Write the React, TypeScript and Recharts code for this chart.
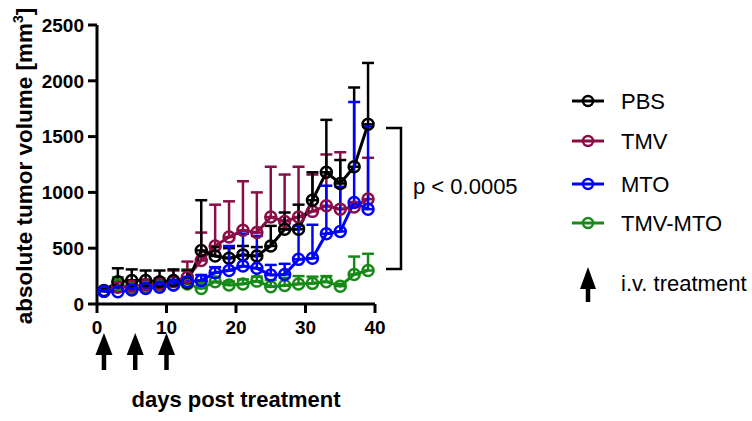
import React from 'react';
import { LineChart, Line, XAxis, YAxis, ErrorBar, ReferenceDot } from 'recharts';

// days post treatment (measurement days)
const days = [1, 3, 5, 7, 9, 11, 13, 15, 17, 19, 21, 23, 25, 27, 29, 31, 33, 35, 37, 39];

// mean tumor volume (mm3) and upper SD per group
const pbsMean = [120, 200, 210, 210, 200, 210, 190, 480, 430, 410, 440, 430, 520, 670, 670, 930, 1180, 1080, 1230, 1610];
const pbsSd = [20, 120, 100, 90, 100, 100, 110, 450, 80, 90, 80, 80, 180, 150, 220, 250, 470, 210, 710, 550];

const tmvMean = [115, 150, 160, 170, 180, 200, 240, 390, 520, 600, 660, 640, 780, 740, 780, 830, 880, 850, 870, 940];
const tmvSd = [15, 50, 40, 50, 50, 100, 140, 250, 370, 320, 440, 360, 450, 420, 450, 330, 460, 510, 30, 370];

const mtoMean = [115, 110, 125, 140, 150, 170, 200, 210, 280, 300, 340, 320, 260, 265, 400, 410, 630, 650, 910, 850];
const mtoSd = [5, 20, 15, 20, 20, 30, 40, 50, 50, 220, 290, 290, 90, 95, 300, 300, 430, 400, 900, 740];

const tmvMtoMean = [115, 170, 140, 150, 160, 170, 180, 140, 200, 170, 180, 205, 155, 165, 180, 185, 200, 160, 265, 300];
const tmvMtoSd = [10, 70, 30, 30, 30, 30, 130, 60, 40, 30, 40, 40, 60, 70, 70, 60, 50, 20, 160, 150];

const xTicks = [0, 10, 20, 30, 40];
const yTicks = [0, 500, 1000, 1500, 2000, 2500];
const treatmentDays = [1, 5.5, 10];

const BLACK = '#000000';
const MAROON = '#8a0e46';
const BLUE = '#0000ff';
const GREEN = '#168a16';

// drawing order: green at the back, blue on top
const series = [
    { key: 'tmvMto', name: 'TMV-MTO', color: GREEN, mean: tmvMtoMean, sd: tmvMtoSd },
    { key: 'tmv', name: 'TMV', color: MAROON, mean: tmvMean, sd: tmvSd },
    { key: 'pbs', name: 'PBS', color: BLACK, mean: pbsMean, sd: pbsSd },
    { key: 'mto', name: 'MTO', color: BLUE, mean: mtoMean, sd: mtoSd },
];

const legendOrder = ['pbs', 'tmv', 'mto', 'tmvMto'];

const data = days.map((day, i) => {
    const row: { [key: string]: any } = { day };
    series.forEach((s) => {
        row[s.key] = s.mean[i];
        row[s.key + 'Err'] = [0, s.sd[i]];
    });
    return row;
});

const FONT = '"Liberation Sans", Arial, Helvetica, sans-serif';

const TreatmentArrow = (props: any) => {
    const { cx, cy } = props;
    if (cx == null || cy == null) return null;
    const tip = cy + 29;
    const base = tip + 22;
    return (
        <g>
            <path d={`M${cx},${tip} L${cx - 8.5},${base} L${cx + 8.5},${base} Z`} fill="#000" />
            <line x1={cx} y1={base - 2} x2={cx} y2={tip + 37} stroke="#000" strokeWidth={4.5} />
        </g>
    );
};

const App: React.FC = () => {
    return (
        <div style={{ position: 'absolute', left: 0, top: 0, width: 752, height: 421, background: '#fff', fontFamily: FONT }}>
            <LineChart width={752} height={421} data={data} margin={{ top: 25, right: 377, bottom: 0, left: 0 }}>
                <XAxis
                    dataKey="day"
                    type="number"
                    domain={[0, 40]}
                    ticks={xTicks}
                    height={117}
                    axisLine={{ stroke: '#000', strokeWidth: 3 }}
                    tickLine={{ stroke: '#000', strokeWidth: 3 }}
                    tickSize={9}
                    tickMargin={8}
                    tick={{ fill: '#000', fontSize: 19, fontWeight: 700, fontFamily: FONT }}
                    interval={0}
                />
                <YAxis
                    type="number"
                    domain={[0, 2500]}
                    ticks={yTicks}
                    width={97}
                    axisLine={{ stroke: '#000', strokeWidth: 3 }}
                    tickLine={{ stroke: '#000', strokeWidth: 3 }}
                    tickSize={9}
                    tickMargin={4}
                    tick={{ fill: '#000', fontSize: 19, fontWeight: 700, fontFamily: FONT }}
                    interval={0}
                />
                {series.map((s) => (
                    <Line
                        key={s.key}
                        dataKey={s.key}
                        name={s.name}
                        stroke={s.color}
                        strokeWidth={3}
                        dot={{ r: 5.5, stroke: s.color, strokeWidth: 2.5, fill: 'none' }}
                        activeDot={false}
                        isAnimationActive={false}
                    >
                        <ErrorBar
                            dataKey={s.key + 'Err'}
                            direction="y"
                            width={6}
                            stroke={s.color}
                            strokeWidth={2.5}
                            isAnimationActive={false}
                        />
                    </Line>
                ))}
                {treatmentDays.map((d) => (
                    <ReferenceDot
                        key={`arrow-${d}`}
                        x={d}
                        y={0}
                        r={0}
                        ifOverflow="visible"
                        shape={TreatmentArrow}
                    />
                ))}
            </LineChart>

            {/* annotations: axis titles, significance bracket, legend */}
            <svg width={752} height={421} style={{ position: 'absolute', left: 0, top: 0, pointerEvents: 'none' }}>
                <text
                    transform="translate(32,166) rotate(-90)"
                    textAnchor="middle"
                    fontSize={22.5}
                    fontWeight={700}
                    fontFamily={FONT}
                    fill="#000"
                >
                    absolute tumor volume [mm
                    <tspan dy={-9} fontSize={14}>3</tspan>
                    <tspan dy={9}>]</tspan>
                </text>
                <text x={236} y={407} textAnchor="middle" fontSize={22} fontWeight={700} fontFamily={FONT} fill="#000">
                    days post treatment
                </text>

                <path d="M386,128 H401 V269 H386" fill="none" stroke="#000" strokeWidth={2.5} />
                <text x={413} y={194} fontSize={22} fontFamily={FONT} fill="#000">
                    p &lt; 0.0005
                </text>

                {legendOrder.map((k, i) => {
                    const s = series.find((x) => x.key === k)!;
                    const cy = [101, 141, 184, 223][i];
                    return (
                        <g key={k}>
                            <line x1={572} y1={cy} x2={604} y2={cy} stroke={s.color} strokeWidth={3} />
                            <circle cx={588} cy={cy} r={5} fill="none" stroke={s.color} strokeWidth={2.5} />
                            <text x={621} y={cy + 8} fontSize={22} fontFamily={FONT} fill="#000">
                                {s.name}
                            </text>
                        </g>
                    );
                })}
                <path d="M588,267 L580,289 L596,289 Z" fill="#000" />
                <line x1={588} y1={287} x2={588} y2={302} stroke="#000" strokeWidth={4.5} />
                <text x={621} y={291} fontSize={22} fontFamily={FONT} fill="#000">
                    i.v. treatment
                </text>
            </svg>
        </div>
    );
};

export default App;
